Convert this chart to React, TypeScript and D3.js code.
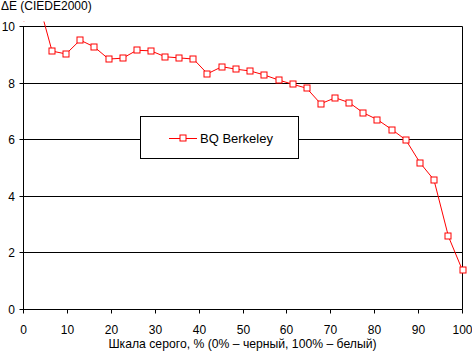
import React from "react";
import * as d3 from "d3";

const grayLevels = [0, 3.2, 6.5, 9.7, 12.9, 16.1, 19.4, 22.6, 25.8, 29.0, 32.3, 35.5, 38.7, 41.9, 45.2, 48.4, 51.6, 54.8, 58.1, 61.3, 64.5, 67.7, 71.0, 74.2, 77.4, 80.6, 83.9, 87.1, 90.3, 93.5, 96.8, 100];
const deltaE = [10.16, 11.0, 9.13, 9.03, 9.52, 9.28, 8.85, 8.88, 9.16, 9.14, 8.93, 8.89, 8.85, 8.33, 8.58, 8.49, 8.43, 8.29, 8.11, 7.96, 7.82, 7.27, 7.48, 7.31, 6.95, 6.71, 6.36, 5.99, 5.19, 4.58, 2.58, 1.38];
const xTicks = [0, 10, 20, 30, 40, 50, 60, 70, 80, 90, 100];
const yTicks = [0, 2, 4, 6, 8, 10];
const seriesName = "BQ Berkeley";
const yTitle = "ΔE (CIEDE2000)";
const xTitle = "Шкала серого, % (0% – черный, 100% – белый)";

const W = 472, H = 352;
const FONT = "'Liberation Sans', Arial, sans-serif";
const RED = "#ff0000";

export default function App() {
  const x = d3.scaleLinear().domain([0, 100]).range([23.5, 462.5]);
  const y = d3.scaleLinear().domain([0, 10]).range([309.5, 26.5]);
  const snap = (v: number) => Math.round(v - 0.5) + 0.5;
  const pts = grayLevels.map((g, i) => [x(g), y(deltaE[i])] as [number, number]);
  const line = d3.line<[number, number]>().x(d => d[0]).y(d => d[1]);
  const left = x(0), right = x(100), top = y(10), bottom = y(0);
  return (
    <svg width={W} height={H} style={{ position: "absolute", left: 0, top: 0, background: "#fff" }} fontFamily={FONT}>
      <defs>
        <clipPath id="plotclip">
          <rect x={left} y={21.5} width={right - left + 2} height={bottom - 21.5} />
        </clipPath>
      </defs>
      <rect x={0} y={0} width={W} height={H} fill="#fff" />
      {yTicks.map(t => (
        <g key={"y" + t}>
          <line x1={left - 4} x2={right} y1={snap(y(t))} y2={snap(y(t))} stroke="#000" strokeWidth={1} />
          <text x={15} y={snap(y(t)) + 4.5} fontSize={12} textAnchor="end" fill="#000">{t}</text>
        </g>
      ))}
      <line x1={left} x2={left} y1={top} y2={bottom} stroke="#000" />
      <line x1={right} x2={right} y1={top} y2={bottom} stroke="#000" />
      {xTicks.map(t => (
        <g key={"x" + t}>
          <line x1={snap(x(t))} x2={snap(x(t))} y1={bottom} y2={bottom + 4} stroke="#000" />
          <text x={snap(x(t))} y={333.5} fontSize={12} textAnchor="middle" fill="#000">{t}</text>
        </g>
      ))}
      <g clipPath="url(#plotclip)">
        <path d={line(pts) || ""} fill="none" stroke={RED} strokeWidth={1} />
      </g>
      {pts.map((p, i) => deltaE[i] <= 10 ? (
        <rect key={"m" + i} x={Math.round(p[0]) - 3} y={Math.round(p[1]) - 3} width={6} height={6} fill="#fff" stroke={RED} strokeWidth={1} />
      ) : null)}
      <text x={1} y={10} fontSize={12} fill="#000">{yTitle}</text>
      <text x={(left + right) / 2 - 0.5} y={348} fontSize={12.2} textAnchor="middle" fill="#000">{xTitle}</text>
      <g>
        <rect x={140.5} y={116.5} width={158} height={42} fill="#fff" stroke="#000" />
        <line x1={169} x2={197} y1={138.5} y2={138.5} stroke={RED} />
        <rect x={180} y={135} width={6} height={6} fill="#fff" stroke={RED} />
        <text x={200} y={143} fontSize={13} fill="#000">{seriesName}</text>
      </g>
    </svg>
  );
}
